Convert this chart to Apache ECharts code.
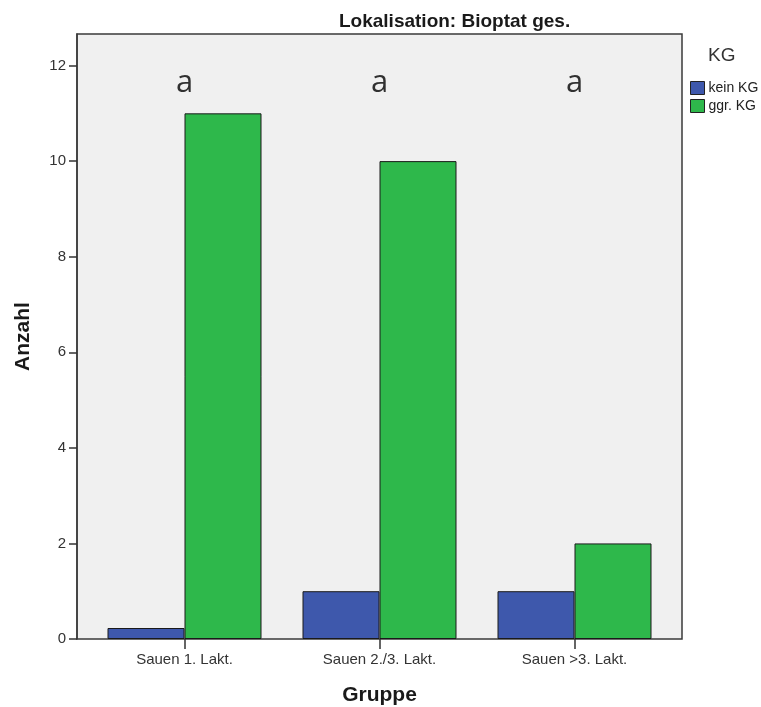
<!DOCTYPE html>
<html>
<head>
<meta charset="utf-8">
<script src="https://cdn.jsdelivr.net/npm/echarts@6/dist/echarts.min.js"></script>
<style>
  html, body { margin: 0; padding: 0; background: #ffffff; }
  #chart { width: 761px; height: 707px; }
</style>
</head>
<body>
<div id="chart"></div>
<script>
// Counts per group, split by KG status
const categories = ['Sauen 1. Lakt.', 'Sauen 2./3. Lakt.', 'Sauen >3. Lakt.'];
const seriesNames = ['kein KG', 'ggr. KG'];
const keinKG = [0.23, 1, 1];
const ggrKG = [11, 10, 2];
const sigLetters = ['a', 'a', 'a'];
const letterLevel = 11.64;
const yTicks = [0, 2, 4, 6, 8, 10, 12];
const yMax = 12.66;

const FONT = '"Liberation Sans", Arial, sans-serif';
const chart = echarts.init(document.getElementById('chart'));

chart.setOption({
  animation: false,
  backgroundColor: '#ffffff',
  color: ['#3e58ac', '#2eb84b'],
  title: [
    {
      text: 'Lokalisation: Bioptat ges.',
      left: 334, top: 7,
      textStyle: { fontFamily: FONT, fontSize: 19, fontWeight: 'bold', color: '#1a1a1a' }
    },
    {
      text: 'KG',
      left: 703, top: 41,
      textStyle: { fontFamily: FONT, fontSize: 19, fontWeight: 'normal', color: '#333' }
    }
  ],
  legend: {
    orient: 'vertical',
    left: 685, top: 76,
    itemWidth: 14, itemHeight: 13, itemGap: 4,
    icon: 'rect',
    data: seriesNames,
    itemStyle: { borderColor: '#222', borderWidth: 1 },
    textStyle: { fontFamily: FONT, fontSize: 14, color: '#222', padding: [0, 0, 0, -1] }
  },
  grid: [
    // plot frame
    { left: 77, top: 34, width: 605, height: 605, show: true, outerBoundsMode: 'none',
      backgroundColor: '#f0f0f0', borderColor: '#3a3a3a', borderWidth: 1.5 },
    // bars, inset from the frame
    { left: 87, top: 34, width: 585, height: 605, outerBoundsMode: 'none' }
  ],
  xAxis: [
    { gridIndex: 0, type: 'category', data: categories, show: false },
    {
      gridIndex: 1, type: 'category', data: categories,
      axisLine: { show: false },
      axisTick: { show: true, alignWithLabel: true, length: 10, lineStyle: { color: '#333', width: 1.5 } },
      axisLabel: { fontFamily: FONT, fontSize: 15, color: '#333', margin: 13 },
      name: 'Gruppe', nameLocation: 'middle', nameGap: 46,
      nameTextStyle: { fontFamily: FONT, fontSize: 21, fontWeight: 'bold', color: '#1a1a1a' }
    }
  ],
  yAxis: [
    {
      gridIndex: 0, type: 'value', min: 0, max: yMax,
      splitLine: { show: false },
      axisLine: { show: true, lineStyle: { color: '#3a3a3a', width: 1.5 } },
      axisTick: { show: true, length: 8, customValues: yTicks, lineStyle: { color: '#333', width: 1.5 } },
      axisLabel: { fontFamily: FONT, fontSize: 15, color: '#333', margin: 11, customValues: yTicks },
      name: 'Anzahl', nameLocation: 'middle', nameGap: 43, nameRotate: 90,
      nameTextStyle: { fontFamily: FONT, fontSize: 21, fontWeight: 'bold', color: '#1a1a1a' }
    },
    { gridIndex: 1, type: 'value', min: 0, max: yMax, show: false, splitLine: { show: false } }
  ],
  series: [
    {
      name: seriesNames[0], type: 'bar', xAxisIndex: 1, yAxisIndex: 1,
      data: keinKG, barWidth: 77, barGap: '0%',
      itemStyle: { borderColor: '#1a1a1a', borderWidth: 1 }
    },
    {
      name: seriesNames[1], type: 'bar', xAxisIndex: 1, yAxisIndex: 1,
      data: ggrKG, barWidth: 77, barGap: '0%',
      itemStyle: { borderColor: '#1a1a1a', borderWidth: 1 }
    },
    {
      type: 'scatter', xAxisIndex: 1, yAxisIndex: 1,
      symbolSize: 0, silent: true,
      data: categories.map((c, i) => [i, letterLevel]),
      label: {
        show: true, position: 'inside',
        formatter: p => sigLetters[p.dataIndex],
        fontFamily: '"Open Sans", sans-serif', fontSize: 31, color: '#000'
      }
    }
  ]
});
</script>
</body>
</html>
